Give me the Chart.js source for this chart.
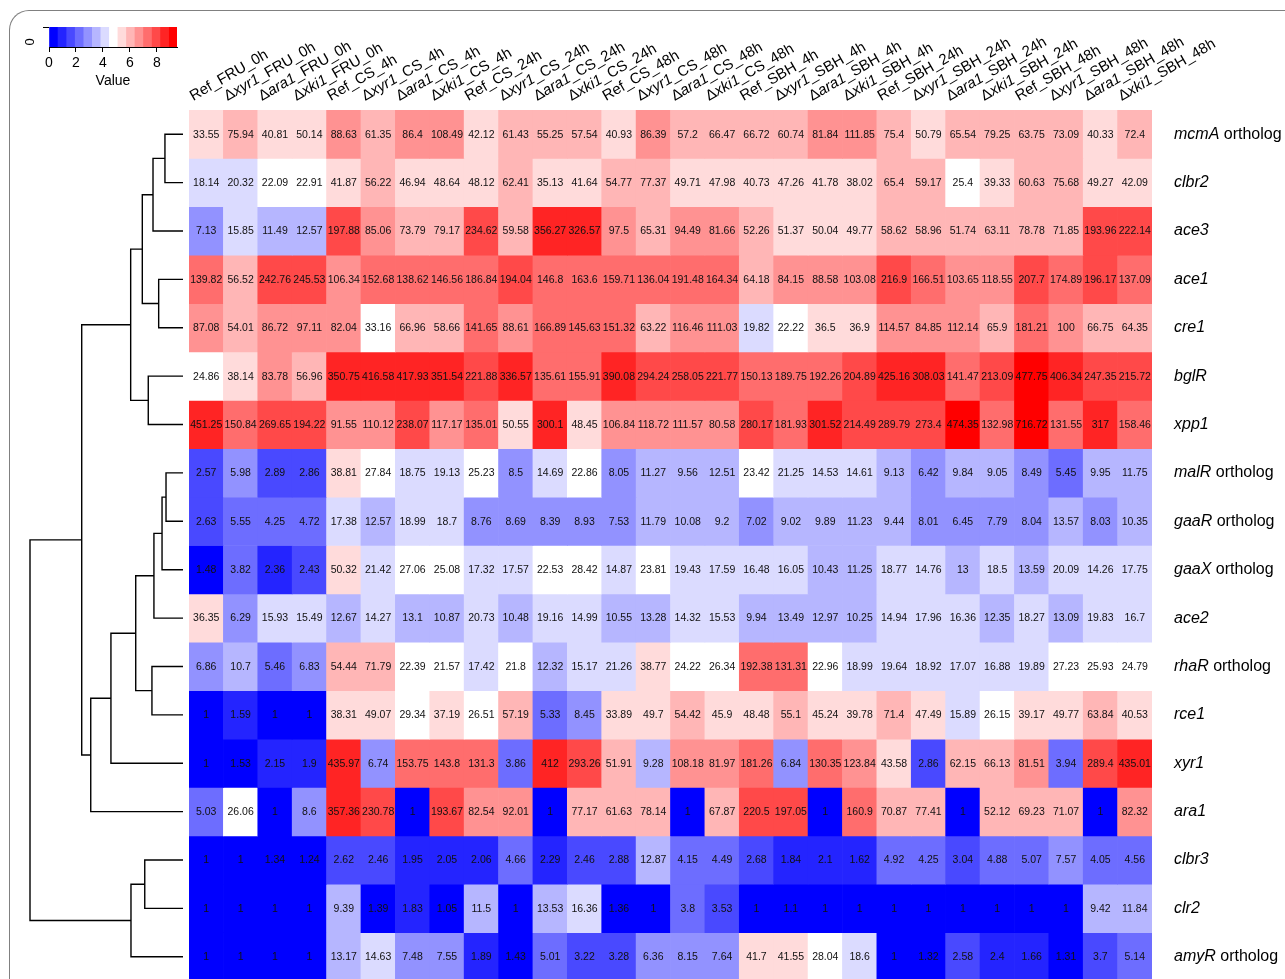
<!DOCTYPE html>
<html><head><meta charset="utf-8">
<script src="https://cdn.jsdelivr.net/npm/chart.js@4.4.0/dist/chart.umd.min.js"></script>
<style>
html,body{margin:0;padding:0;background:#fff;width:1285px;height:979px;overflow:hidden;}
#frame{position:absolute;left:9px;top:10px;width:1400px;height:1200px;border-left:1px solid #808080;border-top:1px solid #808080;border-top-left-radius:20px;}
canvas{position:absolute;}
</style></head><body>
<div id="frame"></div>
<canvas id="heat" width="1285" height="1000" style="left:0;top:0;"></canvas>
<canvas id="dend" width="188" height="1000" style="left:0;top:0;"></canvas>
<canvas id="key" width="200" height="100" style="left:0;top:0;"></canvas>
<script>
// ---------------- DATA ----------------
const columns = ["Ref_FRU_0h","Δxyr1_FRU_0h","Δara1_FRU_0h","Δxki1_FRU_0h",
 "Ref_CS_4h","Δxyr1_CS_4h","Δara1_CS_4h","Δxki1_CS_4h",
 "Ref_CS_24h","Δxyr1_CS_24h","Δara1_CS_24h","Δxki1_CS_24h",
 "Ref_CS_48h","Δxyr1_CS_48h","Δara1_CS_48h","Δxki1_CS_48h",
 "Ref_SBH_4h","Δxyr1_SBH_4h","Δara1_SBH_4h","Δxki1_SBH_4h",
 "Ref_SBH_24h","Δxyr1_SBH_24h","Δara1_SBH_24h","Δxki1_SBH_24h",
 "Ref_SBH_48h","Δxyr1_SBH_48h","Δara1_SBH_48h","Δxki1_SBH_48h"];

const rowGenes  = ["mcmA","clbr2","ace3","ace1","cre1","bglR","xpp1","malR","gaaR","gaaX","ace2","rhaR","rce1","xyr1","ara1","clbr3","clr2","amyR"];
const rowSuffix = [" ortholog","","","","","","",""+" ortholog"," ortholog"," ortholog",""," ortholog","","","","","", " ortholog"];

const mcmA  = [33.55,75.94,40.81,50.14,88.63,61.35,86.4,108.49,42.12,61.43,55.25,57.54,40.93,86.39,57.2,66.47,66.72,60.74,81.84,111.85,75.4,50.79,65.54,79.25,63.75,73.09,40.33,72.4];
const clbr2 = [18.14,20.32,22.09,22.91,41.87,56.22,46.94,48.64,48.12,62.41,35.13,41.64,54.77,77.37,49.71,47.98,40.73,47.26,41.78,38.02,65.4,59.17,25.4,39.33,60.63,75.68,49.27,42.09];
const ace3  = [7.13,15.85,11.49,12.57,197.88,85.06,73.79,79.17,234.62,59.58,356.27,326.57,97.5,65.31,94.49,81.66,52.26,51.37,50.04,49.77,58.62,58.96,51.74,63.11,78.78,71.85,193.96,222.14];
const ace1  = [139.82,56.52,242.76,245.53,106.34,152.68,138.62,146.56,186.84,194.04,146.8,163.6,159.71,136.04,191.48,164.34,64.18,84.15,88.58,103.08,216.9,166.51,103.65,118.55,207.7,174.89,196.17,137.09];
const cre1  = [87.08,54.01,86.72,97.11,82.04,33.16,66.96,58.66,141.65,88.61,166.89,145.63,151.32,63.22,116.46,111.03,19.82,22.22,36.5,36.9,114.57,84.85,112.14,65.9,181.21,100,66.75,64.35];
const bglR  = [24.86,38.14,83.78,56.96,350.75,416.58,417.93,351.54,221.88,336.57,135.61,155.91,390.08,294.24,258.05,221.77,150.13,189.75,192.26,204.89,425.16,308.03,141.47,213.09,477.75,406.34,247.35,215.72];
const xpp1  = [451.25,150.84,269.65,194.22,91.55,110.12,238.07,117.17,135.01,50.55,300.1,48.45,106.84,118.72,111.57,80.58,280.17,181.93,301.52,214.49,289.79,273.4,474.35,132.98,716.72,131.55,317,158.46];
const malR  = [2.57,5.98,2.89,2.86,38.81,27.84,18.75,19.13,25.23,8.5,14.69,22.86,8.05,11.27,9.56,12.51,23.42,21.25,14.53,14.61,9.13,6.42,9.84,9.05,8.49,5.45,9.95,11.75];
const gaaR  = [2.63,5.55,4.25,4.72,17.38,12.57,18.99,18.7,8.76,8.69,8.39,8.93,7.53,11.79,10.08,9.2,7.02,9.02,9.89,11.23,9.44,8.01,6.45,7.79,8.04,13.57,8.03,10.35];
const gaaX  = [1.48,3.82,2.36,2.43,50.32,21.42,27.06,25.08,17.32,17.57,22.53,28.42,14.87,23.81,19.43,17.59,16.48,16.05,10.43,11.25,18.77,14.76,13,18.5,13.59,20.09,14.26,17.75];
const ace2  = [36.35,6.29,15.93,15.49,12.67,14.27,13.1,10.87,20.73,10.48,19.16,14.99,10.55,13.28,14.32,15.53,9.94,13.49,12.97,10.25,14.94,17.96,16.36,12.35,18.27,13.09,19.83,16.7];
const rhaR  = [6.86,10.7,5.46,6.83,54.44,71.79,22.39,21.57,17.42,21.8,12.32,15.17,21.26,38.77,24.22,26.34,192.38,131.31,22.96,18.99,19.64,18.92,17.07,16.88,19.89,27.23,25.93,24.79];
const rce1  = [1,1.59,1,1,38.31,49.07,29.34,37.19,26.51,57.19,5.33,8.45,33.89,49.7,54.42,45.9,48.48,55.1,45.24,39.78,71.4,47.49,15.89,26.15,39.17,49.77,63.84,40.53];
const xyr1  = [1,1.53,2.15,1.9,435.97,6.74,153.75,143.8,131.3,3.86,412,293.26,51.91,9.28,108.18,81.97,181.26,6.84,130.35,123.84,43.58,2.86,62.15,66.13,81.51,3.94,289.4,435.01];
const ara1  = [5.03,26.06,1,8.6,357.36,230.78,1,193.67,82.54,92.01,1,77.17,61.63,78.14,1,67.87,220.5,197.05,1,160.9,70.87,77.41,1,52.12,69.23,71.07,1,82.32];
const clbr3 = [1,1,1.34,1.24,2.62,2.46,1.95,2.05,2.06,4.66,2.29,2.46,2.88,12.87,4.15,4.49,2.68,1.84,2.1,1.62,4.92,4.25,3.04,4.88,5.07,7.57,4.05,4.56];
const clr2  = [1,1,1,1,9.39,1.39,1.83,1.05,11.5,1,13.53,16.36,1.36,1,3.8,3.53,1,1.1,1,1,1,1,1,1,1,1,9.42,11.84];
const amyR  = [1,1,1,1,13.17,14.63,7.48,7.55,1.89,1.43,5.01,3.22,3.28,6.36,8.15,7.64,41.7,41.55,28.04,18.6,1,1.32,2.58,2.4,1.66,1.31,3.7,5.14];

const rows = [mcmA,clbr2,ace3,ace1,cre1,bglR,xpp1,malR,gaaR,gaaX,ace2,rhaR,rce1,xyr1,ara1,clbr3,clr2,amyR];

// dendrogram: leaves 0..17, internal nodes 18.. ; heights (arbitrary units)
const dendMerges  = [[0,1],[18,2],[3,4],[19,20],[5,6],[21,22],[7,8],[24,9],[25,10],[11,12],[26,27],[28,13],[29,14],[23,30],[15,16],[32,17],[31,33]];
const dendHeights = [1.18,1.96,1.59,2.66,2.27,3.42,1.11,1.37,1.90,2.03,3.09,4.71,6.03,6.62,2.50,3.40,10.0];

// colour key
const keyTicks = [0,2,4,6,8];
const nBins = 15;

// ---------------- helpers ----------------
const FONT = '"Liberation Sans", Arial, Helvetica, sans-serif';
const maxLog = Math.max(...rows.flat().map(v=>Math.log2(v)));
const breaks = Array.from({length:nBins+1},(_,i)=>maxLog*i/nBins);
function rampColor(i){
  const half=(nBins-1)/2;
  if(i<=half){const f=i/half;const c=Math.round(255*f);return `rgb(${c},${c},255)`;}
  const f=(i-half)/half;const c=Math.round(255*(1-f));return `rgb(255,${c},${c})`;
}
const keyColors = Array.from({length:nBins},(_,i)=>rampColor(i));
function colorFor(v){
  const l=Math.log2(v);
  let b=Math.floor(l/(maxLog/nBins));
  if(b<0)b=0; if(b>nBins-1)b=nBins-1;
  return keyColors[b];
}

// ---------------- heatmap ----------------
const labelPlugin = {
  id:'heatLabels',
  afterDraw(chart){
    const ctx=chart.ctx, xs=chart.scales.x, ys=chart.scales.y;
    ctx.save();
    // cell values
    ctx.fillStyle='#111';
    ctx.font=`10.5px ${FONT}`;
    ctx.textAlign='center';ctx.textBaseline='middle';
    rows.forEach((vals,r)=>{
      const yc=(ys.getPixelForValue(r)+ys.getPixelForValue(r+1))/2;
      vals.forEach((v,c)=>{ ctx.fillText(String(v), xs.getPixelForValue(c), yc+0.5); });
    });
    // row labels
    ctx.textAlign='left';ctx.fillStyle='#000';
    rowGenes.forEach((g,r)=>{
      const yc=(ys.getPixelForValue(r)+ys.getPixelForValue(r+1))/2;
      let x=chart.chartArea.right+22;
      ctx.font=`italic 16px ${FONT}`; ctx.fillText(g,x,yc);
      x+=ctx.measureText(g).width;
      if(rowSuffix[r]){ctx.font=`16px ${FONT}`; ctx.fillText(rowSuffix[r],x,yc);}
    });
    // column labels (rotated 30 deg)
    ctx.textBaseline='alphabetic';
    columns.forEach((lab,c)=>{
      const x0=xs.getPixelForValue(c)-13, y0=chart.chartArea.top-9;
      ctx.save();ctx.translate(x0,y0);ctx.rotate(-Math.PI/6);
      let parts=[];
      if(lab.startsWith('Δ')){
        const i=lab.indexOf('_');
        parts=[['Δ',false],[lab.slice(1,i),true],[lab.slice(i),false]];
      } else parts=[[lab,false]];
      let x=0;
      parts.forEach(([t,it])=>{ctx.font=`${it?'italic ':''}15px ${FONT}`;ctx.fillText(t,x,0);x+=ctx.measureText(t).width;});
      ctx.restore();
    });
    ctx.restore();
  }
};

new Chart(document.getElementById('heat'),{
  type:'bar',
  data:{
    labels:columns,
    datasets:rows.map((vals,r)=>({
      data:vals.map(()=>[r,r+1]),
      backgroundColor:vals.map(colorFor),
      borderWidth:0,grouped:false,barPercentage:1,categoryPercentage:1
    }))
  },
  options:{
    responsive:false,animation:false,events:[],
    layout:{padding:{left:189,right:133,top:110,bottom:19}},
    plugins:{legend:{display:false},tooltip:{enabled:false}},
    scales:{
      x:{type:'category',display:false},
      y:{type:'linear',min:0,max:rows.length,reverse:true,display:false}
    }
  },
  plugins:[labelPlugin]
});

// ---------------- dendrogram ----------------
const nodeY={}, nodeH={};
rows.forEach((_,i)=>{nodeY[i]=i+0.5;nodeH[i]=0;});
const dendSets=dendMerges.map(([a,b],k)=>{
  const id=rows.length+k, h=dendHeights[k];
  nodeY[id]=(nodeY[a]+nodeY[b])/2; nodeH[id]=h;
  return {data:[{x:nodeH[a],y:nodeY[a]},{x:h,y:nodeY[a]},{x:h,y:nodeY[b]},{x:nodeH[b],y:nodeY[b]}],
    showLine:true,borderColor:'#000',borderWidth:1.4,pointRadius:0,tension:0,clip:false};
});
new Chart(document.getElementById('dend'),{
  type:'scatter',
  data:{datasets:dendSets},
  options:{
    responsive:false,animation:false,events:[],
    layout:{padding:{left:30,right:5,top:110,bottom:19}},
    plugins:{legend:{display:false},tooltip:{enabled:false}},
    scales:{
      x:{type:'linear',min:0,max:Math.max(...dendHeights),reverse:true,display:false},
      y:{type:'linear',min:0,max:rows.length,reverse:true,display:false}
    }
  }
});

// ---------------- colour key ----------------
const keyPlugin={
  id:'keyZero',
  afterDraw(chart){
    const ctx=chart.ctx, y2=chart.scales.y2;
    ctx.save();ctx.fillStyle='#000';ctx.font=`13px ${FONT}`;
    ctx.translate(30,y2.getPixelForValue(0));ctx.rotate(-Math.PI/2);
    ctx.textAlign='center';ctx.textBaseline='middle';ctx.fillText('0',0,0);
    ctx.restore();
  }
};
new Chart(document.getElementById('key'),{
  type:'bar',
  data:{labels:['k'],datasets:keyColors.map((c,i)=>({data:[[breaks[i],breaks[i+1]]],backgroundColor:c,borderWidth:0,grouped:false,barPercentage:1,categoryPercentage:1,yAxisID:'y'}))},
  options:{
    indexAxis:'y',responsive:false,animation:false,events:[],
    layout:{padding:{top:27,right:23,left:0,bottom:0}},
    plugins:{legend:{display:false},tooltip:{enabled:false}},
    scales:{
      x:{type:'linear',min:0,max:maxLog,position:'bottom',
         afterFit:s=>{s.height=53;},
         grid:{drawOnChartArea:false,drawTicks:true,tickLength:5,color:'#000'},
         border:{display:true,color:'#000'},
         ticks:{stepSize:2,includeBounds:false,color:'#000',font:{size:14,family:FONT},padding:3,maxRotation:0},
         afterBuildTicks:s=>{s.ticks=keyTicks.map(v=>({value:v}));},
         title:{display:true,text:'Value',color:'#000',font:{size:14,family:FONT},padding:{top:0,bottom:10}}},
      y:{type:'category',display:false},
      y2:{type:'linear',position:'left',min:0,max:1,afterFit:s=>{s.width=49;},
          grid:{drawOnChartArea:false,tickLength:6,color:'#000'},border:{display:false},
          ticks:{stepSize:0.125,callback:()=>''}}
    }
  },
  plugins:[keyPlugin]
});
</script>
</body></html>
